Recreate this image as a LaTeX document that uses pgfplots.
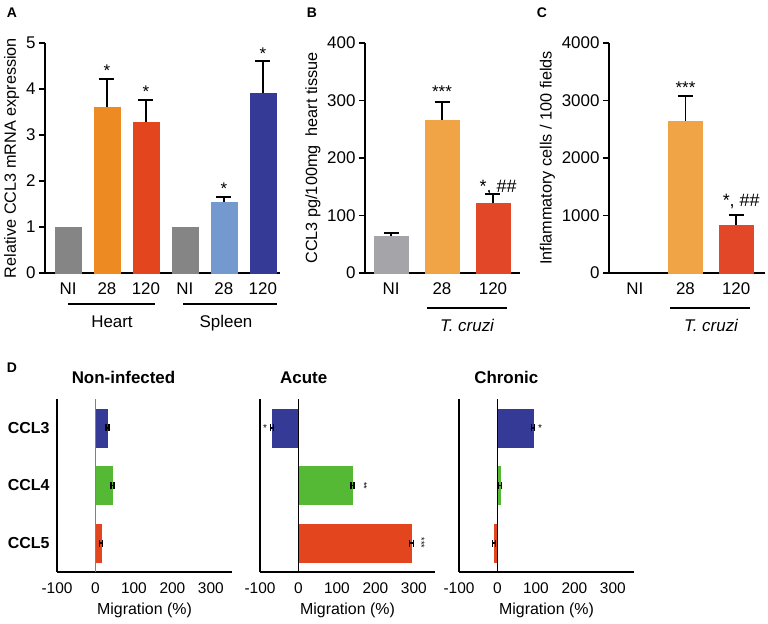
\documentclass[border=0pt]{standalone}
\usepackage{pgfplots}
\pgfplotsset{compat=1.18}
\usepackage{fontspec}
\setmainfont{Liberation Sans}
\definecolor{grayA}{HTML}{858585}
\definecolor{orangeA}{HTML}{EE8A22}
\definecolor{redA}{HTML}{E3461F}
\definecolor{lblue}{HTML}{7399CF}
\definecolor{dblue}{HTML}{353A96}
\definecolor{grayB}{HTML}{A5A4A9}
\definecolor{orangeB}{HTML}{F0A445}
\definecolor{redB}{HTML}{E24828}
\definecolor{greenD}{HTML}{55B935}
\newcommand{\fs}[1]{\fontsize{#1}{#1}\selectfont}
\pgfplotsset{
  panelABC/.style={
    scale only axis, anchor=south west, height=230bp,
    axis lines=left, axis line style={line width=1.3bp,-},
    ymin=0, xtick={0,1,2,3,4,5},
    xtick style={draw=none},
    ytick style={line width=1.3bp, black},
    tick align=outside, major tick length=6bp,
    tick label style={font=\fs{17}},
    label style={font=\fs{16.3}},
    /pgf/number format/assume math mode=true,
    /pgf/number format/1000 sep={},
    clip=false,
  },
  mybar/.style={ybar, bar shift=0pt, fill=#1, draw=#1,
    error bars/.cd, y dir=plus, y explicit,
    error bar style={line width=1.8bp, black},
    error mark options={rotate=90, line width=1.8bp, black, mark size=7.5bp}},
  panelD/.style={
    scale only axis, anchor=south west, width=175bp, height=173bp,
    xmin=-100, xmax=355, ymin=-0.5, ymax=2.5,
    axis lines=left, axis line style={line width=1.1bp,-},
    xtick={-100,0,100,200,300}, ytick={0,1,2}, yticklabels={},
    major tick length=0pt,
    tick label style={font=\fs{15.5}},
    xticklabel style={yshift=-7bp},
    xlabel={Migration (\%)}, xlabel style={font=\fs{16}, yshift=-3bp},
    /pgf/number format/assume math mode=true,
    clip=false,
  },
  hbar/.style={xbar, bar shift=0pt, bar width=38bp, fill=#1, draw=#1,
    error bars/.cd, x dir=both, x explicit,
    error bar style={line width=1.5bp, black},
    error mark options={rotate=90, line width=1.5bp, black, mark size=3.5bp}},
}
\begin{document}
\begin{tikzpicture}[x=1bp,y=1bp]
\useasboundingbox (0,0) rectangle (768,624);
% ---------------- Panel A
\begin{axis}[panelABC, at={(45bp,351bp)}, width=235bp, xmin=-0.59, xmax=5.44,
  ymax=5, ytick={0,1,2,3,4,5}, xticklabels={NI,28,120,NI,28,120},
  ylabel={Relative CCL3 mRNA expression}, bar width=26bp]
\addplot[mybar=grayA] coordinates {(0,1)};
\addplot[mybar=orangeA] coordinates {(1,3.61) +- (0,0.61)};
\addplot[mybar=redA] coordinates {(2,3.28) +- (0,0.48)};
\addplot[mybar=grayA] coordinates {(3,1)};
\addplot[mybar=lblue] coordinates {(4,1.54) +- (0,0.11)};
\addplot[mybar=dblue] coordinates {(5,3.91) +- (0,0.69)};
\node[anchor=base, font=\fs{17}] at (axis cs:1,4.27) {*};
\node[anchor=base, font=\fs{17}] at (axis cs:2,3.81) {*};
\node[anchor=base, font=\fs{17}] at (axis cs:4,1.70) {*};
\node[anchor=base, font=\fs{17}] at (axis cs:5,4.64) {*};
\end{axis}
% ---------------- Panel B
\begin{axis}[panelABC, at={(365bp,351bp)}, width=155bp, xmin=-0.51, xmax=2.53,
  ymax=400, ytick={0,100,200,300,400}, xtick={0,1,2}, xticklabels={NI,28,120},
  ylabel={CCL3 pg/100mg\ \ heart tissue}, bar width=34bp]
\addplot[mybar=grayB] coordinates {(0,64) +- (0,6)};
\addplot[mybar=orangeB] coordinates {(1,266) +- (0,31)};
\addplot[mybar=redB] coordinates {(2,122) +- (0,15)};
\node[anchor=base, font=\fs{17}] at (axis cs:1,305) {***};
\node[anchor=base, font=\fs{18}] at (axis cs:2.1,140) {*, \#\#};
\end{axis}
% ---------------- Panel C
\begin{axis}[panelABC, at={(609bp,351bp)}, width=156bp, xmin=-0.51, xmax=2.57,
  ymax=4000, ytick={0,1000,2000,3000,4000}, xtick={0,1,2}, xticklabels={NI,28,120},
  ylabel={Inflammatory cells / 100 fields}, bar width=34bp]
\addplot[mybar=orangeB] coordinates {(1,2643) +- (0,435)};
\addplot[mybar=redB] coordinates {(2,835) +- (0,174)};
\node[anchor=base, font=\fs{17}] at (axis cs:1,3130) {***};
\node[anchor=base, font=\fs{18}] at (axis cs:2.1,1160) {*, \#\#};
\end{axis}
% ---------------- Panel D
\begin{axis}[panelD, at={(57bp,52bp)}, yticklabels={CCL5,CCL4,CCL3},
  yticklabel style={font=\fs{16}\bfseries, xshift=-4bp}]
\addplot[hbar=dblue] coordinates {(31,2) +- (4,0)};
\addplot[hbar=greenD] coordinates {(44,1) +- (4,0)};
\addplot[hbar=redA] coordinates {(14,0) +- (4,0)};
\draw[gray, line width=1bp] (axis cs:0,-0.5) -- (axis cs:0,2.5);
\node[anchor=base, font=\fs{17}\bfseries] at (axis description cs:0.38,1) [yshift=15bp] {Non-infected};
\end{axis}
\begin{axis}[panelD, at={(260bp,52bp)}]
\addplot[hbar=dblue] coordinates {(-69,2) +- (4,0)};
\addplot[hbar=greenD] coordinates {(140,1) +- (4,0)};
\addplot[hbar=redA] coordinates {(294,0) +- (5,0)};
\draw[black, line width=1bp] (axis cs:0,-0.5) -- (axis cs:0,2.5);
\node[font=\fs{10}] at (axis cs:-87,2) {*};
\node[font=\fs{9}, rotate=-90] at (axis cs:170,1) {**};
\node[font=\fs{9}, rotate=-90] at (axis cs:320,0) {***};
\node[anchor=base, font=\fs{17}\bfseries] at (axis description cs:0.25,1) [yshift=15bp] {Acute};
\end{axis}
\begin{axis}[panelD, at={(459bp,52bp)}]
\addplot[hbar=dblue] coordinates {(92,2) +- (4,0)};
\addplot[hbar=greenD] coordinates {(6,1) +- (4,0)};
\addplot[hbar=redA] coordinates {(-9,0) +- (4,0)};
\draw[black, line width=1bp] (axis cs:0,-0.5) -- (axis cs:0,2.5);
\node[font=\fs{10}] at (axis cs:111,2) {*};
\node[anchor=base, font=\fs{17}\bfseries] at (axis description cs:0.27,1) [yshift=15bp] {Chronic};
\end{axis}
% ---------------- decorations
\draw[line width=2.5bp] (68,320) -- (155,320);
\draw[line width=2.5bp] (183,320) -- (277,320);
\node[font=\fs{17}, anchor=base] at (112,296) {Heart};
\node[font=\fs{17}, anchor=base] at (226,296) {Spleen};
\draw[line width=2.5bp] (427,316) -- (507,316);
\draw[line width=2.5bp] (670,316) -- (750,316);
\node[font=\fs{17}\itshape, anchor=base] at (467,292) {T. cruzi};
\node[font=\fs{17}\itshape, anchor=base] at (711,292) {T. cruzi};
\node[font=\fs{14}\bfseries] at (12,611) {A};
\node[font=\fs{14}\bfseries] at (312,611) {B};
\node[font=\fs{14}\bfseries] at (542,611) {C};
\node[font=\fs{14}\bfseries] at (12,256) {D};
\end{tikzpicture}
\end{document}
